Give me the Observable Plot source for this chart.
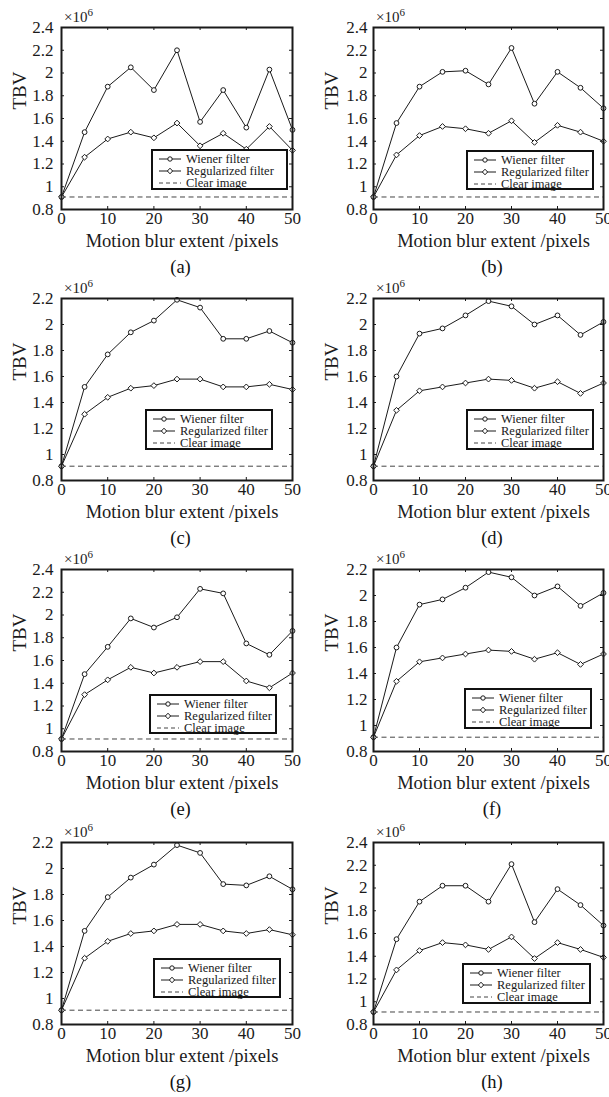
<!DOCTYPE html>
<html>
<head>
<meta charset="utf-8">
<script src="https://cdn.jsdelivr.net/npm/d3@7"></script>
<script src="https://cdn.jsdelivr.net/npm/@observablehq/plot@0.6"></script>
<style>
  body { margin: 0; background: #fff; }
  #root { position: relative; width: 609px; height: 1097px; overflow: hidden;
          font-family: "Liberation Serif", "Times New Roman", serif; color: #111; }
  .panel { position: absolute; }
  .panel svg { overflow: visible; }
  .caption { position: absolute; width: 60px; text-align: center; font-size: 18.5px; line-height: 20px; font-family: "Liberation Serif", serif; }
  .mult { position: absolute; font-size: 15px; line-height: 15px; white-space: nowrap; font-family: "Liberation Serif", serif; color: #222; }
  .mult sup { font-size: 11px; vertical-align: 6px; line-height: 0; }
  .legend { position: absolute; border: 2px solid #111; background: #fff; box-sizing: border-box; }
  .legend .row { position: absolute; left: 0; height: 12px; white-space: nowrap; font-size: 12.5px; line-height: 12px; font-family: "Liberation Serif", serif; color: #1a1a1a; }
  .legend svg { position: absolute; left: 0; top: 0; }
  .legend span { position: absolute; top: 0; }
</style>
</head>
<body>
<div id="root"></div>
<script>
// ---------- data ----------
const blur = [0, 5, 10, 15, 20, 25, 30, 35, 40, 45, 50];
const xTicks = [0, 10, 20, 30, 40, 50];
const yTicks24 = [0.8, 1, 1.2, 1.4, 1.6, 1.8, 2, 2.2, 2.4];
const yTicks22 = [0.8, 1, 1.2, 1.4, 1.6, 1.8, 2, 2.2];
const clearImage = 0.91;
const captions = ["(a)", "(b)", "(c)", "(d)", "(e)", "(f)", "(g)", "(h)"];
const seriesNames = ["Wiener filter", "Regularized filter", "Clear image"];

const wienerA = [0.91, 1.48, 1.88, 2.05, 1.85, 2.20, 1.57, 1.85, 1.52, 2.03, 1.50];
const regA    = [0.91, 1.26, 1.42, 1.48, 1.43, 1.56, 1.36, 1.47, 1.33, 1.53, 1.32];
const wienerB = [0.91, 1.56, 1.88, 2.01, 2.02, 1.90, 2.22, 1.73, 2.01, 1.87, 1.69];
const regB    = [0.91, 1.28, 1.45, 1.53, 1.51, 1.47, 1.58, 1.39, 1.54, 1.48, 1.40];
const wienerC = [0.91, 1.52, 1.77, 1.94, 2.03, 2.19, 2.13, 1.89, 1.89, 1.95, 1.86];
const regC    = [0.91, 1.31, 1.44, 1.51, 1.53, 1.58, 1.58, 1.52, 1.52, 1.54, 1.50];
const wienerD = [0.91, 1.60, 1.93, 1.97, 2.07, 2.18, 2.14, 2.00, 2.07, 1.92, 2.02];
const regD    = [0.91, 1.34, 1.49, 1.52, 1.55, 1.58, 1.57, 1.51, 1.56, 1.47, 1.55];
const wienerE = [0.91, 1.48, 1.72, 1.97, 1.89, 1.98, 2.23, 2.19, 1.75, 1.65, 1.86];
const regE    = [0.91, 1.30, 1.43, 1.54, 1.49, 1.54, 1.59, 1.59, 1.42, 1.36, 1.49];
const wienerF = [0.91, 1.60, 1.93, 1.97, 2.06, 2.18, 2.14, 2.00, 2.07, 1.92, 2.02];
const regF    = [0.91, 1.34, 1.49, 1.52, 1.55, 1.58, 1.57, 1.51, 1.56, 1.47, 1.55];
const wienerG = [0.91, 1.52, 1.78, 1.93, 2.03, 2.18, 2.12, 1.88, 1.87, 1.94, 1.84];
const regG    = [0.91, 1.31, 1.44, 1.50, 1.52, 1.57, 1.57, 1.52, 1.50, 1.53, 1.49];
const wienerH = [0.91, 1.55, 1.88, 2.02, 2.02, 1.88, 2.21, 1.70, 1.99, 1.85, 1.67];
const regH    = [0.91, 1.28, 1.45, 1.52, 1.50, 1.46, 1.57, 1.38, 1.52, 1.46, 1.39];

// ---------- layout (not data) ----------
const panelDefs = [
  {w: wienerA, r: regA, yt: yTicks24, legend: [151, 149, 137, 41]},
  {w: wienerB, r: regB, yt: yTicks24, legend: [466, 150, 128, 40]},
  {w: wienerC, r: regC, yt: yTicks22, legend: [145, 409, 128, 41]},
  {w: wienerD, r: regD, yt: yTicks22, legend: [466, 409, 128, 41]},
  {w: wienerE, r: regE, yt: yTicks24, legend: [149, 694, 128, 40]},
  {w: wienerF, r: regF, yt: yTicks22, legend: [464, 688, 128, 41]},
  {w: wienerG, r: regG, yt: yTicks22, legend: [153, 958, 128, 40]},
  {w: wienerH, r: regH, yt: yTicks24, legend: [462, 963, 129, 41]}
];
const rowTops = [0, 271, 542, 815];
const ink = "#1a1a1a";
const serif = "'Liberation Serif', 'Times New Roman', serif";
const root = document.getElementById("root");
const fmt = d => String(+d.toFixed(1));

panelDefs.forEach((p, i) => {
  const col = i % 2, row = Math.floor(i / 2);
  const left = col === 0 ? 0 : 305;
  const width = col === 0 ? 305 : 304;
  const ml = col === 0 ? 61 : 68, mr = col === 0 ? 13 : 6;
  const mt = 27, mb = 41, height = 250;
  const fw = width - ml - mr, fh = height - mt - mb;
  const top = rowTops[row];
  const yMax = p.yt[p.yt.length - 1];

  const wRows = blur.map((x, k) => ({x, y: p.w[k]}));
  const rRows = blur.map((x, k) => ({x, y: p.r[k]}));

  const plot = Plot.plot({
    width, height,
    marginLeft: ml, marginRight: mr, marginTop: mt, marginBottom: mb,
    style: {fontFamily: serif, fontSize: "17px", background: "transparent", color: ink, overflow: "visible"},
    x: {domain: [0, 50]},
    y: {domain: [0.8, yMax]},
    marks: [
      Plot.ruleY([clearImage], {stroke: "#444", strokeWidth: 1, strokeDasharray: "5,3.5"}),
      Plot.line(wRows, {x: "x", y: "y", stroke: ink, strokeWidth: 1}),
      Plot.line(rRows, {x: "x", y: "y", stroke: ink, strokeWidth: 1}),
      Plot.dot(wRows, {x: "x", y: "y", symbol: "circle", r: 2.4, fill: "white", stroke: ink, strokeWidth: 1}),
      Plot.dot(rRows, {x: "x", y: "y", symbol: "diamond2", r: 2.6, fill: "white", stroke: ink, strokeWidth: 1}),
      // inward ticks on all four sides
      Plot.tickX(xTicks, {x: d => d, insetTop: fh - 3, stroke: ink}),
      Plot.tickX(xTicks, {x: d => d, insetBottom: fh - 3, stroke: ink}),
      Plot.tickY(p.yt, {y: d => d, insetRight: fw - 3, stroke: ink}),
      Plot.tickY(p.yt, {y: d => d, insetLeft: fw - 3, stroke: ink}),
      Plot.frame({stroke: ink, strokeWidth: 2}),
      Plot.axisX({ticks: xTicks, tickSize: 0, tickPadding: 2, tickFormat: d => String(d), label: null, fontSize: 17}),
      Plot.axisY({ticks: p.yt, tickSize: 0, tickPadding: col === 0 ? 8 : 6, tickFormat: fmt, label: null, fontSize: 17}),
      Plot.text(["Motion blur extent /pixels"], {frameAnchor: "bottom", dy: 32, dx: 5, fontSize: 18.5, lineAnchor: "middle", fill: ink}),
      Plot.text(["TBV"], {frameAnchor: "left", dx: -42, dy: -9, rotate: -90, fontSize: 19, lineAnchor: "middle", fill: ink})
    ]
  });
  const wrap = document.createElement("div");
  wrap.className = "panel";
  wrap.style.left = left + "px";
  wrap.style.top = top + "px";
  wrap.appendChild(plot);
  root.appendChild(wrap);

  // ×10^6 multiplier
  const mult = document.createElement("div");
  mult.className = "mult";
  mult.innerHTML = "×10<sup>6</sup>";
  mult.style.left = (left + ml + 3) + "px";
  mult.style.top = (top + mt - 17) + "px";
  root.appendChild(mult);

  // caption
  const cap = document.createElement("div");
  cap.className = "caption";
  cap.textContent = captions[i];
  cap.style.left = (left + ml + fw / 2 + 4 - 30) + "px";
  cap.style.top = (top + mt + 240 - 10) + "px";
  root.appendChild(cap);

  // legend
  const [lx, ly, lw, lh] = p.legend;
  const lg = document.createElement("div");
  lg.className = "legend";
  Object.assign(lg.style, {left: lx + "px", top: ly + "px", width: lw + "px", height: lh + "px"});
  const rowsY = [2, 14, 26];
  seriesNames.forEach((name, k) => {
    const r = document.createElement("div");
    r.className = "row";
    r.style.top = rowsY[k] + "px";
    r.style.width = (lw - 4) + "px";
    let glyph = "";
    if (k === 0) glyph = `<circle cx="17" cy="6" r="2.2" fill="white" stroke="${ink}"/>`;
    if (k === 1) glyph = `<path d="M17,3.2 L19.6,6 L17,8.8 L14.4,6 Z" fill="white" stroke="${ink}"/>`;
    const dash = k === 2 ? `stroke-dasharray="4,3"` : "";
    r.innerHTML = `<svg width="32" height="12"><line x1="6" x2="28" y1="6" y2="6" stroke="${k===2?'#444':ink}" stroke-width="1" ${dash}/>${glyph}</svg><span style="left:33px">${name}</span>`;
    lg.appendChild(r);
  });
  root.appendChild(lg);
});
</script>
</body>
</html>
